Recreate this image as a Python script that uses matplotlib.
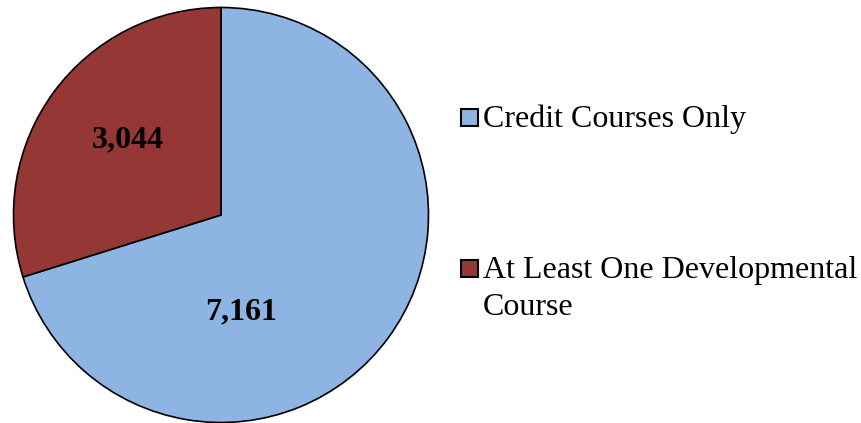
import matplotlib.pyplot as plt
from matplotlib.patches import Rectangle

# Dati del grafico
categorie = ['Credit Courses Only', 'At Least One Developmental\nCourse']
valori = [7161, 3044]
colori = ['#8EB4E3', '#953735']
etichette = ['7,161', '3,044']

plt.rcParams['font.family'] = ['Liberation Serif', 'DejaVu Serif']

W, H = 861, 423
fig = plt.figure(figsize=(W / 100, H / 100), dpi=100)
# asse per la torta: centro (221, 215) px, raggio ~207 px
ax = fig.add_axes([(221 - 207.5) / W, (H - 215 - 207.5) / H, 415 / W, 415 / H])

spicchi, _ = ax.pie(valori, colors=colori, startangle=90, counterclock=False,
                    wedgeprops=dict(edgecolor='black', linewidth=1.2))
ax.set_xlim(-1, 1)
ax.set_ylim(-1, 1)
ax.set_aspect('equal')
ax.axis('off')

# posizioni delle etichette (come nel grafico originale)
pos_etichette = [(0.096, -0.465), (-0.45, 0.36)]
for testo, (x, y) in zip(etichette, pos_etichette):
    ax.text(x, y, testo, ha='center', va='center', fontsize=23, fontweight='bold')

# legenda disegnata a mano: quadratino + testo (una riga alla volta)
righe_legenda = [127, 278]  # baseline della prima riga, in pixel dall'alto
interlinea = 37
for colore, testo, yb in zip(colori, categorie, righe_legenda):
    quad = Rectangle((461 / W, 1 - (yb - 1) / H), 17 / W, 17 / H, transform=fig.transFigure,
                     facecolor=colore, edgecolor='black', linewidth=1.5)
    fig.add_artist(quad)
    for i, riga in enumerate(testo.split('\n')):
        fig.text(483 / W, 1 - (yb + i * interlinea) / H, riga, ha='left', va='baseline',
                 fontsize=23)

fig.savefig('out.png', dpi=100)
